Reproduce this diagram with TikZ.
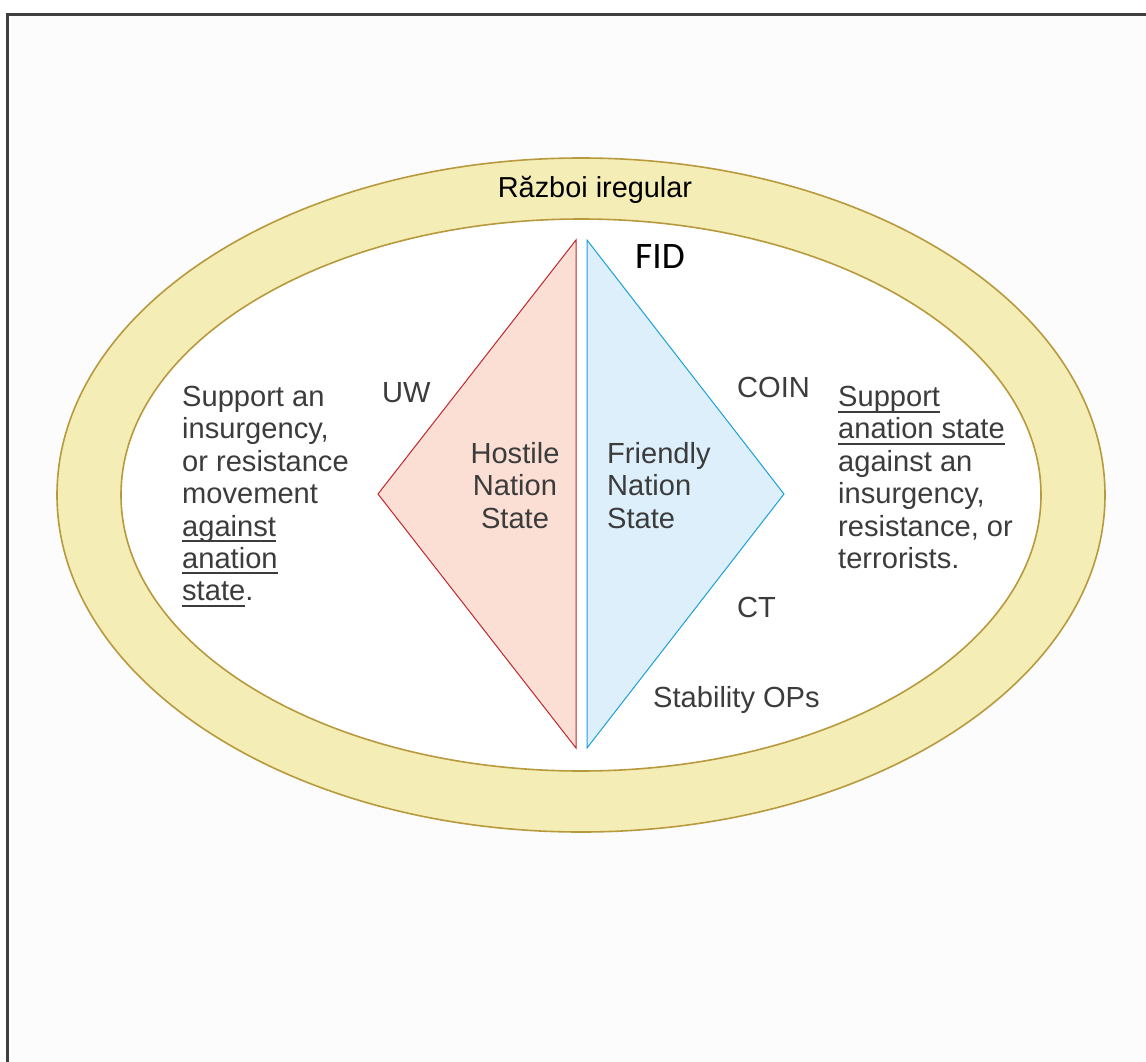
\documentclass[tikz,border=0pt]{standalone}
\usepackage{fontspec}
\setmainfont{Liberation Sans}
\newfontfamily\fidfont{Carlito}
\usetikzlibrary{positioning}

\definecolor{ringfill}{HTML}{F5EDB6}
\definecolor{ringline}{HTML}{B89A3E}
\definecolor{hostline}{HTML}{C0272D}
\definecolor{hostfill}{HTML}{FBDFD4}
\definecolor{friendline}{HTML}{1BA1D8}
\definecolor{friendfill}{HTML}{DCEFFB}
\definecolor{txt}{HTML}{3C3C3C}
\definecolor{frame}{HTML}{3F3F3F}

% underline drawn below the baseline
\newcommand{\ulin}[1]{\setbox0\hbox{#1}\rlap{\rule[-6bp]{\wd0}{2bp}}\box0}

\tikzset{
  lbl/.style={inner sep=0pt, text=txt, font=\fontsize{29.2}{32.5}\selectfont},
  blk/.style={lbl, align=left, anchor=north west}
}

\begin{document}
\begin{tikzpicture}[x=1bp, y=-1bp]
    \useasboundingbox (0,0) rectangle (1146,1062);
    \fill[white] (0,0) rectangle (1146,1062);
    \fill[black!1] (7,14) rectangle (1146,1062);
    \draw[frame, line width=3bp] (7,1062) -- (7,14) -- (1146,14);

    % Ring
    \coordinate (C) at (581,495);
    \draw[ringline, fill=ringfill, line width=1.6bp] (C) ellipse [x radius=524, y radius=337];
    \draw[ringline, fill=white, line width=1.6bp] (C) ellipse [x radius=460, y radius=276];
    \node[lbl, anchor=base, text=black, font=\fontsize{29}{32}\selectfont] (irr) at (595,197) {Război iregular};

    % Diamond
    \coordinate (HT) at (576,240);
    \coordinate (HB) at (576,748);
    \coordinate (HL) at (378,494);
    \coordinate (FT) at (587,240);
    \coordinate (FB) at (587,748);
    \coordinate (FR) at (784,494);
    \draw[hostline, fill=hostfill, line width=1bp] (HT) -- (HL) -- (HB) -- cycle;
    \draw[friendline, fill=friendfill, line width=1bp] (FT) -- (FR) -- (FB) -- cycle;

    \node[lbl, anchor=base west, text=black, font=\fidfont\fontsize{37.5}{40}\selectfont] (fid) at (635,268) {FID};
    \node[lbl, align=center, anchor=north] (host) at (515,442) {Hostile\\Nation\\State};
    \node[blk] (friend) at (607,442) {Friendly\\Nation\\State};

    % Labels
    \node[lbl, anchor=base west] (uw) at (382,402) {UW};
    \node[lbl, anchor=base west] (coin) at (737,397) {COIN};
    \node[lbl, anchor=base west] (ct) at (737,617) {CT};
    \node[lbl, anchor=base west] (stab) at (653,707) {Stability OPs};

    % Side texts
    \node[blk] (left) at (182,386) {Support an\\insurgency,\\or resistance\\movement\\\ulin{against}\\\ulin{anation}\\\ulin{state}.};
    \node[blk] (right) at (838,386) {\ulin{Support}\\\ulin{anation state}\\against an\\insurgency,\\resistance, or\\terrorists.};
\end{tikzpicture}
\end{document}
